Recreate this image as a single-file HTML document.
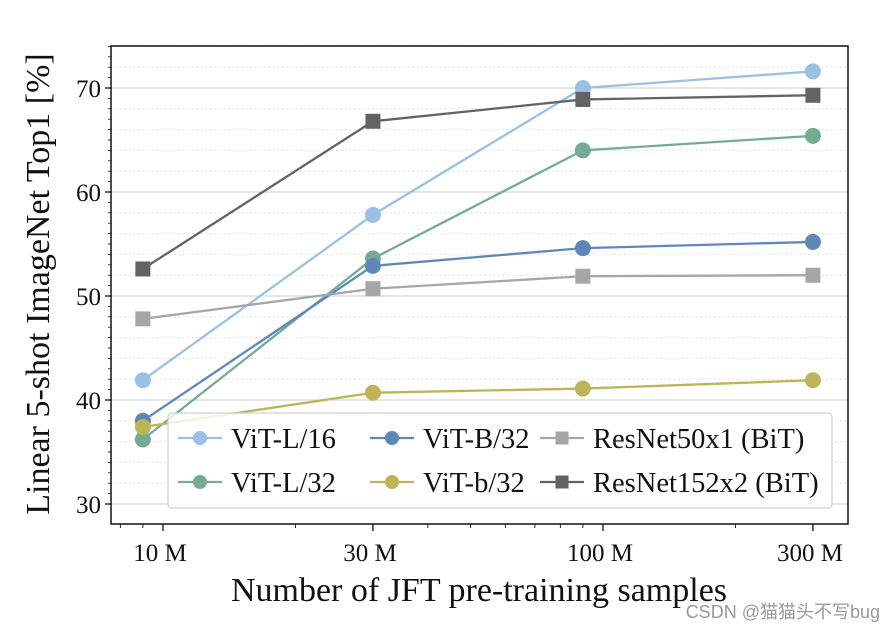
<!DOCTYPE html>
<html><head><meta charset="utf-8">
<style>
body{margin:0;background:#fff;}
svg text{font-family:"Liberation Serif",serif;fill:#111;}
</style></head>
<body>
<svg id="chart" width="896" height="634" xmlns="http://www.w3.org/2000/svg">
<g id="grid"></g>
<g id="axes"></g>
<g id="series"></g>
<g id="legend"></g>
<text x="479" y="601" text-anchor="middle" font-size="34">Number of JFT pre-training samples</text>
<text transform="translate(49,284) rotate(-90)" text-anchor="middle" font-size="34">Linear 5-shot ImageNet Top1 [%]</text>
<text x="880" y="618" text-anchor="end" font-size="18" style="font-family:'Liberation Sans','Noto Sans CJK SC',sans-serif;fill:#999">CSDN @猫猫头不写bug</text>
</svg>
<script>
const samples=[9,30,90,300];
const xTicks=[10,30,100,300];
const xTickLabels=["10 M","30 M","100 M","300 M"];
const yTicks=[30,40,50,60,70];
const seriesNames=["ViT-L/16","ViT-L/32","ViT-B/32","ViT-b/32","ResNet50x1 (BiT)","ResNet152x2 (BiT)"];
const vitL16=[41.9,57.8,70.0,71.6];
const vitL32=[36.2,53.6,64.0,65.4];
const vitB32=[38.0,52.9,54.6,55.2];
const vitb32=[37.4,40.7,41.1,41.9];
const r50=[47.8,50.7,51.9,52.0];
const r152=[52.6,66.8,68.9,69.3];
const colors=["#9ac0e4","#76ab93","#5f88b8","#bdb459","#a6a6a6","#636363"];
const markers=["o","o","o","o","s","s"];
const allSeries=[vitL16,vitL32,vitB32,vitb32,r50,r152];
const L=111,R=848,T=46,B=524;
const NS="http://www.w3.org/2000/svg";
function X(v){return 163+440*Math.log10(v/10);}
function Y(v){return 88+(70-v)*10.4;}
function mk(tag,attrs,parent){const e=document.createElementNS(NS,tag);for(const k in attrs)e.setAttribute(k,attrs[k]);parent.appendChild(e);return e;}
const grid=document.getElementById('grid'),axes=document.getElementById('axes'),ser=document.getElementById('series'),leg=document.getElementById('legend');
for(let v=30;v<=74;v+=2){
  const major=v%10===0;
  const l=mk('line',{x1:L,x2:R,y1:Y(v),y2:Y(v),stroke:'#d8d8d8','stroke-width':major?1.2:1,'stroke-dasharray':major?'none':'1.5,3'},grid);
  
  
}
const frame=mk('rect',{x:L,y:T,width:R-L,height:B-T,fill:'none',stroke:'#111','stroke-width':1.5},axes);


yTicks.forEach(v=>{
  const t=mk('line',{x1:L-6,x2:L,y1:Y(v),y2:Y(v),stroke:'#111','stroke-width':1.3},axes);
  
  
  const tx=mk('text',{x:L-10,y:Y(v)+9,'text-anchor':'end','font-size':25},axes);tx.textContent=v;
  
  
});
for(let v=31;v<=74;v++){ if(v%10===0)continue;
  const t=mk('line',{x1:L-3,x2:L,y1:Y(v),y2:Y(v),stroke:'#111','stroke-width':0.8},axes);
  
  
}
[8,9,20,40,50,60,70,80,90,200].forEach(v=>{
  const t=mk('line',{x1:X(v),x2:X(v),y1:B,y2:B+4,stroke:'#111','stroke-width':0.9},axes);
  
  
});
xTicks.forEach((v,i)=>{
  const t=mk('line',{x1:X(v),x2:X(v),y1:B,y2:B+7,stroke:'#111','stroke-width':1.3},axes);
  
  
  const tx=mk('text',{x:X(v)-3,y:B+37,'text-anchor':'middle','font-size':25},axes);tx.textContent=xTickLabels[i];
  
  
});
function marker(type,cx,cy,c,size,parent){
  let m;
  if(type==='o')m=mk('circle',{cx:cx,cy:cy,r:size,fill:c},parent);
  else m=mk('rect',{x:cx-size,y:cy-size,width:2*size,height:2*size,fill:c},parent);
  return m;
}
allSeries.forEach((d,si)=>{
  const g=mk('g',{},ser);
  
  
  const pts=d.map((v,i)=>X(samples[i])+','+Y(v)).join(' ');
  const pl=mk('polyline',{points:pts,fill:'none',stroke:colors[si],'stroke-width':2.3},g);
  
  
  d.forEach((v,i)=>{
    const m=marker(markers[si],X(samples[i]),Y(v),colors[si],markers[si]==='o'?8:7.5,g);
    
    
  });
});
const box=mk('rect',{x:168,y:413,width:664,height:95,rx:4,fill:'rgba(255,255,255,0.8)',stroke:'#d0d0d0','stroke-width':1.2},leg);


const order=[0,2,4,1,3,5];
const colX=[178,370,540];
order.forEach((si,k)=>{
  const cx=colX[k%3],cy=k<3?438:482;
  const g=mk('g',{},leg);
  
  
  mk('line',{x1:cx,x2:cx+44,y1:cy,y2:cy,stroke:colors[si],'stroke-width':2.3},g);
  marker(markers[si],cx+22,cy,colors[si],markers[si]==='o'?7:6.5,g);
  const t=mk('text',{x:cx+53,y:cy+10,'font-size':28.5},g);t.textContent=seriesNames[si];
});
</script>
</body></html>
